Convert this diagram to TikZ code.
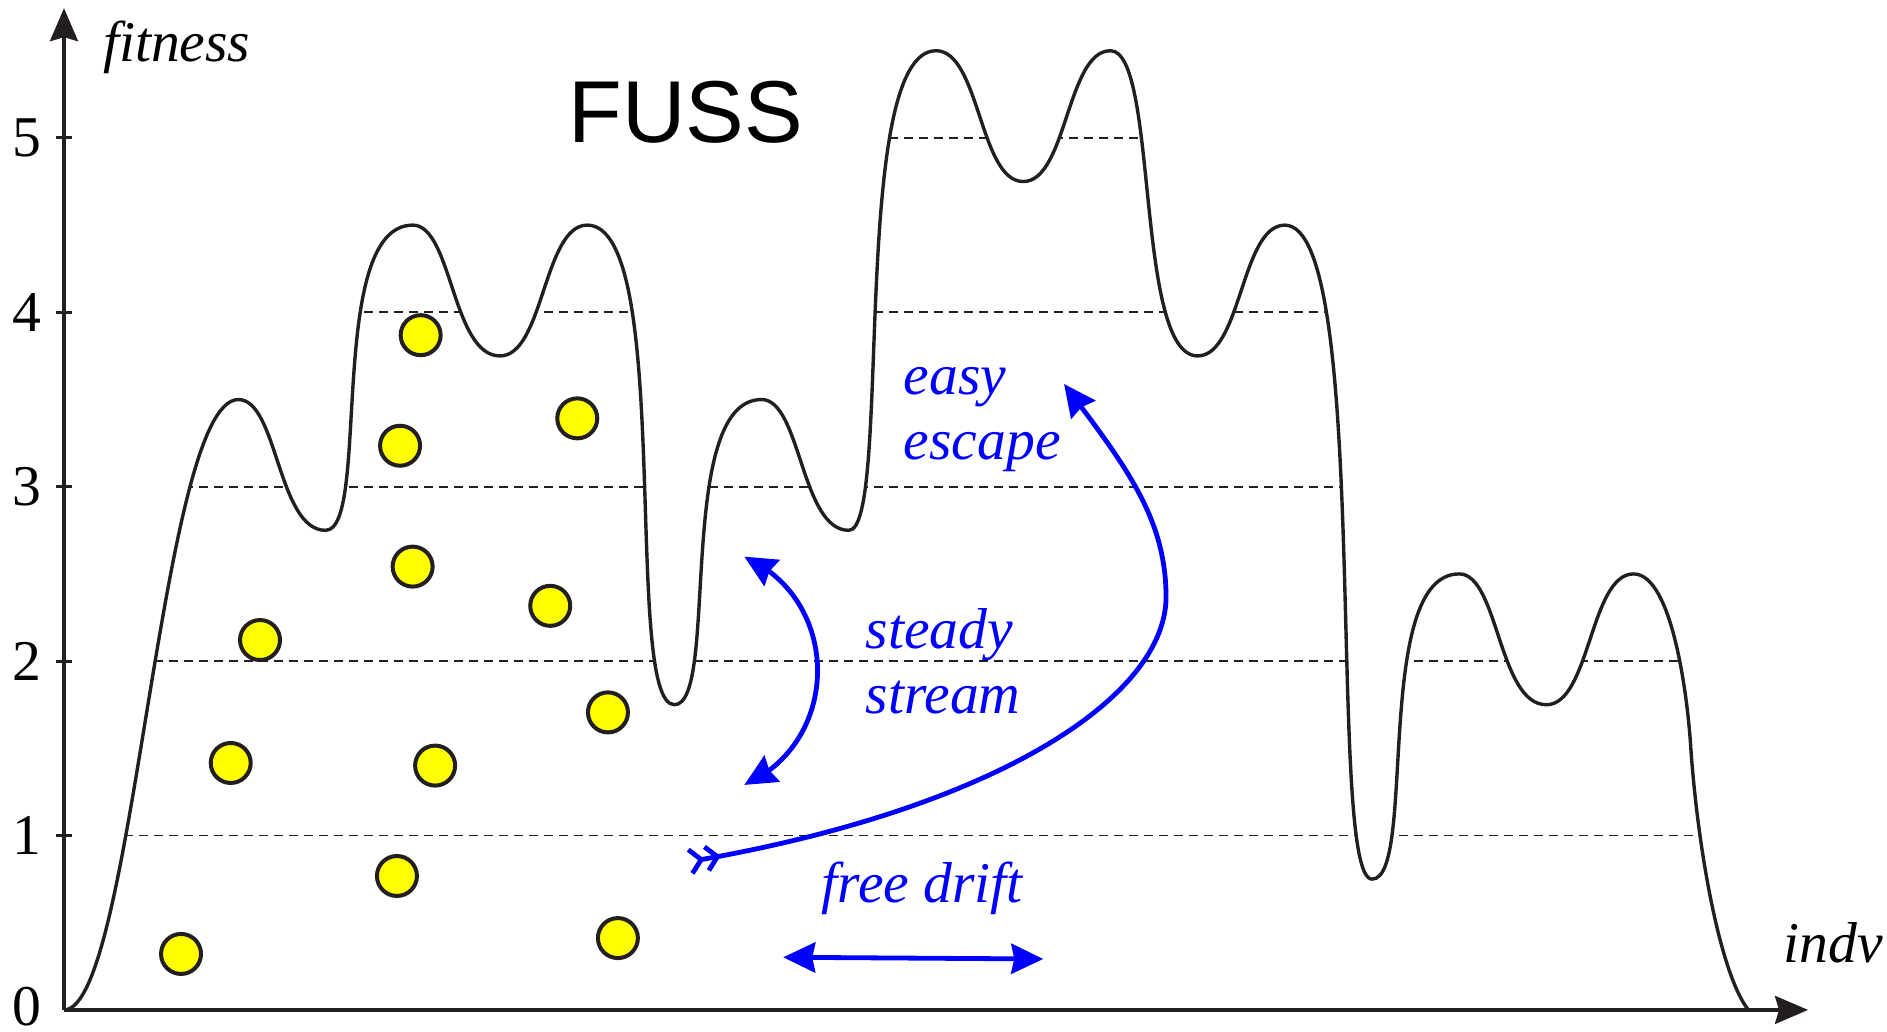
\documentclass[tikz,border=0pt]{standalone}
\usepackage{fontspec}
\setmainfont{Liberation Serif}
\newfontfamily\titlefont{Liberation Sans}
\usepackage{tikz}
\usetikzlibrary{arrows.meta, bending}
\definecolor{lineblack}{HTML}{231F20}
\definecolor{dotyellow}{HTML}{FFFF00}
\definecolor{noteblue}{HTML}{0000FF}

% the landscape, peaks at whole x, valleys at half x
\newcommand{\fitnesscurve}{(0,0)
  .. controls (0.40,0) and (0.55,3.5) .. (1,3.5)
  .. controls (1.225,3.5) and (1.225,2.75) .. (1.5,2.75)
  .. controls (1.76,2.75) and (1.5,4.5) .. (2,4.5)
  .. controls (2.225,4.5) and (2.225,3.75) .. (2.5,3.75)
  .. controls (2.75,3.75) and (2.75,4.5) .. (3,4.5)
  .. controls (3.5,4.5) and (3.2,1.75) .. (3.5,1.75)
  .. controls (3.76,1.75) and (3.5,3.5) .. (4,3.5)
  .. controls (4.225,3.5) and (4.225,2.75) .. (4.5,2.75)
  .. controls (4.75,2.75) and (4.5,5.5) .. (5,5.5)
  .. controls (5.25,5.5) and (5.25,4.75) .. (5.5,4.75)
  .. controls (5.75,4.75) and (5.75,5.5) .. (6,5.5)
  .. controls (6.275,5.5) and (6.14,3.75) .. (6.5,3.75)
  .. controls (6.75,3.75) and (6.75,4.5) .. (7,4.5)
  .. controls (7.5,4.5) and (7.235,0.75) .. (7.5,0.75)
  .. controls (7.76,0.75) and (7.5,2.5) .. (8,2.5)
  .. controls (8.225,2.5) and (8.225,1.75) .. (8.5,1.75)
  .. controls (8.75,1.75) and (8.75,2.5) .. (9,2.5)
  .. controls (9.22,2.5) and (9.31,1.8) .. (9.328,1.5)
  .. controls (9.37,0.9) and (9.5,0.2) .. (9.658,0)}

\begin{document}
\begin{tikzpicture}[x=1.744cm, y=1.744cm,
  axistip/.tip={Stealth[length=3.3mm, width=2.8mm, inset=0.4mm]},
  bluetip/.tip={Stealth[length=3.2mm, width=3mm, inset=0.3mm]},
  axis/.style={line width=0.33mm, draw=lineblack, -{axistip}},
  levelline/.style={line width=0.18mm, draw=lineblack, dash pattern=on 0.9mm off 0.6mm},
  yellowdot/.style={circle, draw=lineblack, fill=dotyellow, line width=0.4mm, minimum size=4mm, inner sep=0pt},
  numlabel/.style={font=\fontsize{16.4}{19}\selectfont, text=black, anchor=east, inner sep=0pt},
  axislabel/.style={font=\fontsize{16.4}{19}\selectfont\itshape, text=black, anchor=base west, inner sep=0pt},
  blabel/.style={font=\fontsize{16.4}{18.4}\selectfont\itshape, text=noteblue, align=left, anchor=base west, inner sep=0pt},
  barrow/.style={draw=noteblue, line width=0.48mm}
]
\useasboundingbox (-0.367,-0.126) rectangle (10.453,5.791);

% dashed fitness levels, only below the curve
\begin{scope}
  \clip \fitnesscurve -- cycle;
  \foreach \k in {1,...,5}
    \draw[levelline] (0,\k) -- (10,\k);
\end{scope}
\draw[line width=0.34mm, lineblack] \fitnesscurve;

% axes
\coordinate (origin) at (0,0);
\coordinate (xend) at (10,0);
\coordinate (yend) at (0,5.744);
\draw[axis] (origin) -- (xend);
\draw[axis] (origin) -- (yend);
\foreach \k in {1,...,5}
  \draw[line width=0.3mm, lineblack] (-0.046,\k) -- (0.046,\k);
\foreach \k in {1,...,5}
  \node[numlabel] (tick\k) at (-0.125,\k) {\k};
\node[numlabel] (tick0) at (-0.125,0.02) {0};
\node[axislabel] (ylabel) at (0.22,5.436) {fitness};
\node[axislabel] (xlabel) at (9.857,0.27) {indv};

\node[font=\titlefont\fontsize{25}{30}\selectfont, anchor=base west, inner sep=0pt]
  (title) at (2.89,4.972) {FUSS};

% population
\foreach \px/\py [count=\i] in {0.671/0.321, 0.956/1.416, 1.124/2.121, 1.909/0.768,
    2.128/1.401, 1.999/2.542, 1.927/3.235, 2.045/3.869, 2.943/3.392,
    2.788/2.317, 3.119/1.706, 3.176/0.412}
  \node[yellowdot] (ind\i) at (\px,\py) {};

% annotations (base = last line)
\node[blabel] (easylabel) at (4.811,3.157) {easy\\escape};
\node[blabel] (steadylabel) at (4.593,1.701) {steady\\stream};
\node[blabel] (driftlabel) at (4.341,0.614) {free drift};

\coordinate (steady-top) at (3.901,2.599);
\coordinate (steady-bot) at (3.901,1.290);
\draw[barrow, {bluetip}-{bluetip}] (steady-top) to[out=-24, in=24, looseness=1.2] (steady-bot);

\coordinate (drift-left) at (4.124,0.302);
\coordinate (drift-right) at (5.615,0.292);
\draw[barrow, {bluetip}-{bluetip}] (drift-left) -- (drift-right);

\coordinate (escape-start) at (3.578,0.849);
\coordinate (escape-end) at (5.734,3.589);
\draw[barrow, {Straight Barb[reversed, length=1.1mm, width=2.4mm, sep=0pt] Straight Barb[reversed, length=1.1mm, width=2.4mm]}-{bluetip}]
  (escape-start) .. controls (5.344,1.147) and (6.319,1.795) .. (6.319,2.368)
  .. controls (6.319,2.827) and (6.078,3.131) .. (escape-end);
\end{tikzpicture}
\end{document}
